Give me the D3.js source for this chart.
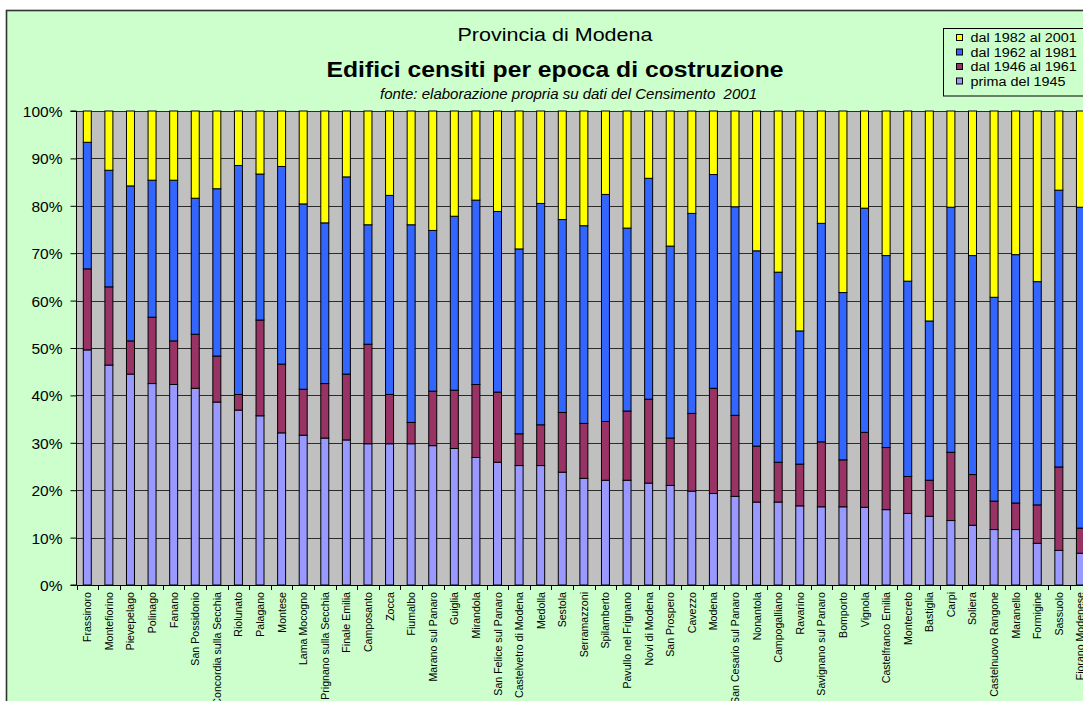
<!DOCTYPE html>
<html><head><meta charset="utf-8">
<script src="https://cdn.jsdelivr.net/npm/d3@7"></script>
<style>
html,body{margin:0;padding:0;background:#fff;overflow:hidden}
svg{display:block;font-family:"Liberation Sans",Arial,sans-serif}
</style></head>
<body>
<svg id="chart" width="1083" height="701"></svg>
<script>
const categories = ["Frassinoro","Montefiorino","Pievepelago","Polinago","Fanano","San Possidonio","Concordia sulla Secchia","Riolunato","Palagano","Montese","Lama Mocogno","Prignano sulla Secchia","Finale Emilia","Camposanto","Zocca","Fiumalbo","Marano sul Panaro","Guiglia","Mirandola","San Felice sul Panaro","Castelvetro di Modena","Medolla","Sestola","Serramazzoni","Spilamberto","Pavullo nel Frignano","Novi di Modena","San Prospero","Cavezzo","Modena","San Cesario sul Panaro","Nonantola","Campogalliano","Ravarino","Savignano sul Panaro","Bomporto","Vignola","Castelfranco Emilia","Montecreto","Bastiglia","Carpi","Soliera","Castelnuovo Rangone","Maranello","Formigine","Sassuolo","Fiorano Modenese"];

const prima1945 = [49.6,46.4,44.5,42.5,42.3,41.5,38.6,36.9,35.7,32.1,31.6,31.0,30.6,29.8,29.8,29.8,29.4,28.8,26.9,25.9,25.2,25.2,23.8,22.5,22.1,22.1,21.5,21.0,19.8,19.3,18.7,17.5,17.5,16.7,16.5,16.5,16.4,15.9,15.1,14.5,13.6,12.6,11.7,11.7,8.8,7.3,6.7];
const dal1946 = [17.1,16.5,7.0,14.0,9.2,11.4,9.7,3.3,20.2,14.5,9.7,11.5,13.9,21.0,10.4,4.5,11.5,12.3,15.4,14.8,6.7,8.6,12.6,11.6,12.4,14.6,17.7,10.0,16.4,22.2,17.1,11.8,8.4,8.8,13.7,9.9,15.8,13.1,7.8,7.6,14.4,10.7,6.0,5.6,8.1,17.6,5.3];
const dal1962 = [26.7,24.6,32.7,28.9,33.9,28.7,35.3,48.3,30.8,41.7,39.1,33.9,41.6,25.2,42.0,41.7,33.9,36.7,38.9,38.1,39.0,46.7,40.7,41.7,47.9,38.6,46.6,40.5,42.2,45.1,44.0,41.2,40.1,28.1,46.1,35.3,47.3,40.5,41.2,33.6,51.7,46.2,43.0,52.4,47.1,58.4,67.7];
const dal1982 = [6.6,12.5,15.8,14.6,14.6,18.4,16.4,11.5,13.3,11.7,19.6,23.6,13.9,24.0,17.8,24.0,25.2,22.2,18.8,21.2,29.1,19.5,22.9,24.2,17.6,24.7,14.2,28.5,21.6,13.4,20.2,29.5,34.0,46.4,23.7,38.3,20.5,30.5,35.9,44.3,20.3,30.5,39.3,30.3,36.0,16.7,20.3];

const seriesKeys = ["prima del 1945","dal 1946 al 1961","dal 1962 al 1981","dal 1982 al 2001"];
const seriesColors = ["#9999FF","#993366","#3366FF","#FFFF00"];
const yTicks = [0,10,20,30,40,50,60,70,80,90,100];

const table = categories.map((c,i)=>({cat:c,
  "prima del 1945":prima1945[i],"dal 1946 al 1961":dal1946[i],
  "dal 1962 al 1981":dal1962[i],"dal 1982 al 2001":dal1982[i]}));

const svg = d3.select("#chart");
// chart area background
svg.append("rect").attr("x",6.5).attr("y",10.5).attr("width",1100).attr("height",720)
  .attr("fill","#CCFFCC").attr("stroke","#333").attr("stroke-width",1.6);

const pLeft = 76.5, step = 21.59, pTop = 111, pBottom = 585;
const x = d3.scaleBand().domain(categories).range([pLeft, pLeft + step*categories.length])
  .paddingInner(0.63).paddingOuter(0.315);
const y = d3.scaleLinear().domain([0,100]).range([pBottom, pTop]);

// plot area
svg.append("rect").attr("x",pLeft).attr("y",pTop).attr("width",step*categories.length).attr("height",pBottom-pTop)
  .attr("fill","#C0C0C0");
// gridlines
svg.append("g").selectAll("line").data(yTicks.slice(1)).join("line")
  .attr("x1",pLeft).attr("x2",pLeft+step*categories.length)
  .attr("y1",d=>Math.round(y(d))+0.5).attr("y2",d=>Math.round(y(d))+0.5)
  .attr("stroke","#2b2b2b").attr("stroke-width",1);

// bars
const stacked = d3.stack().keys(seriesKeys)(table);
svg.append("g").selectAll("g").data(stacked).join("g")
  .attr("fill",(d,i)=>seriesColors[i])
  .selectAll("rect").data(d=>d).join("rect")
  .attr("x",d=>x(d.data.cat)).attr("width",x.bandwidth())
  .attr("y",d=>y(d[1])).attr("height",d=>y(d[0])-y(d[1]))
  .attr("stroke","#000").attr("stroke-width",1);

// y axis
const yAxis = d3.axisLeft(y).tickValues(yTicks).tickFormat(d=>d+"%").tickSize(6).tickPadding(8);
const gy = svg.append("g").attr("transform",`translate(${pLeft},0)`).call(yAxis);
gy.select(".domain").attr("stroke","#000").attr("d",`M-6,${pTop}H0V${pBottom}H-6`);
gy.selectAll(".tick line").attr("stroke","#000");
gy.selectAll(".tick text").attr("font-size","15.5px").attr("fill","#000")
  .attr("font-family","'Liberation Sans',Arial,sans-serif").attr("dy","0.36em");

// x axis line
svg.append("line").attr("x1",pLeft).attr("x2",pLeft+step*categories.length)
  .attr("y1",pBottom+0.5).attr("y2",pBottom+0.5).attr("stroke","#000");
// category tick marks (between categories)
svg.append("g").selectAll("line").data(d3.range(categories.length+1)).join("line")
  .attr("x1",i=>Math.round(pLeft+i*step)+0.5).attr("x2",i=>Math.round(pLeft+i*step)+0.5)
  .attr("y1",pBottom).attr("y2",pBottom+5).attr("stroke","#000");
// x labels
svg.append("g").selectAll("text").data(categories).join("text")
  .attr("transform",d=>`translate(${x(d)+x.bandwidth()/2+4},592) rotate(-90)`)
  .attr("text-anchor","end").attr("font-size","10.6px").attr("fill","#000").text(d=>d);

// titles (horizontally widened like the reference rendering)
svg.append("text").attr("x",555).attr("y",41).attr("text-anchor","middle")
  .attr("font-size","17.5px").attr("textLength",195).attr("lengthAdjust","spacingAndGlyphs")
  .text("Provincia di Modena");
svg.append("text").attr("x",555).attr("y",77).attr("text-anchor","middle")
  .attr("font-size","21.5px").attr("font-weight","bold")
  .attr("textLength",457).attr("lengthAdjust","spacingAndGlyphs")
  .text("Edifici censiti per epoca di costruzione");
svg.append("text").attr("x",568.5).attr("y",99).attr("text-anchor","middle")
  .attr("font-size","14px").attr("font-style","italic").attr("xml:space","preserve")
  .attr("textLength",377).attr("lengthAdjust","spacingAndGlyphs")
  .text("fonte: elaborazione propria su dati del Censimento  2001");

// legend
const lg = svg.append("g");
lg.append("rect").attr("x",943.5).attr("y",28.5).attr("width",160).attr("height",67.5)
  .attr("fill","#CCFFCC").attr("stroke","#000");
const legendOrder = [3,2,1,0];
legendOrder.forEach((si,r)=>{
  const cy = 37.5 + r*14.5;
  lg.append("rect").attr("x",956.5).attr("y",cy-3).attr("width",6).attr("height",6)
    .attr("fill",seriesColors[si]).attr("stroke","#000");
  const t = lg.append("text").attr("x",970.5).attr("y",cy+4.5).attr("font-size","12.5px").text(seriesKeys[si]);
  const w = t.node().getComputedTextLength();
  t.attr("textLength", w*1.15).attr("lengthAdjust","spacingAndGlyphs");
});
</script>
</body></html>
